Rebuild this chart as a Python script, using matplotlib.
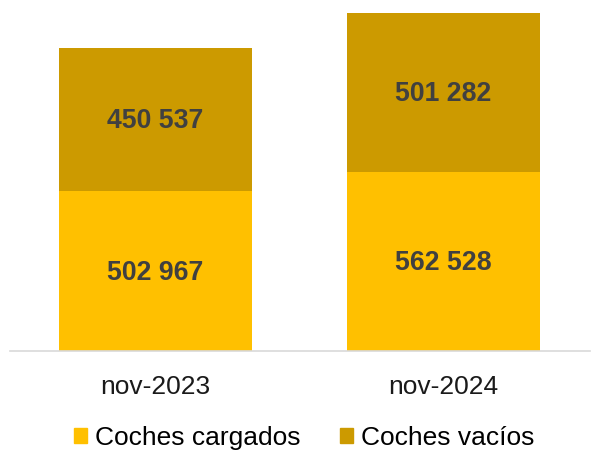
import matplotlib.pyplot as plt
from matplotlib.patches import Patch

plt.rcParams['font.family'] = ['Liberation Sans', 'DejaVu Sans']

# Monthly car counts
periods = ["nov-2023", "nov-2024"]
loaded = [502967, 562528]
empty = [450537, 501282]
series_names = ["Coches cargados", "Coches vacíos"]

LOADED_COLOR = "#ffc000"
EMPTY_COLOR = "#cc9a00"
LABEL_COLOR = "#404040"


def fmt(v):
    return f"{v:,}".replace(",", " ")


fig = plt.figure(figsize=(5.94, 4.59), dpi=100)
ax = fig.add_axes([10 / 594, 108 / 459, 580 / 594, 351 / 459])

x = list(range(len(periods)))
width = 0.67
ax.bar(x, loaded, width, color=LOADED_COLOR)
ax.bar(x, empty, width, bottom=loaded, color=EMPTY_COLOR)

for i in x:
    ax.text(i, loaded[i] / 2 - 4500, fmt(loaded[i]), ha="center", va="center",
            fontsize=19.2, fontweight="bold", color=LABEL_COLOR)
    ax.text(i, loaded[i] + empty[i] / 2 - 4500, fmt(empty[i]), ha="center", va="center",
            fontsize=19.2, fontweight="bold", color=LABEL_COLOR)

ax.set_xlim(-0.505, 1.509)
ax.set_ylim(0, 1104500)
ax.set_yticks([])
ax.set_xticks(x)
ax.set_xticklabels(periods, fontsize=19, color="#1a1a1a")
ax.tick_params(axis="x", length=0, pad=17)
for side in ["left", "right", "top"]:
    ax.spines[side].set_visible(False)
ax.spines["bottom"].set_color("#d9d9d9")
ax.spines["bottom"].set_linewidth(1.2)

handles = [Patch(color=LOADED_COLOR), Patch(color=EMPTY_COLOR)]
fig.legend(handles, series_names, loc="center", bbox_to_anchor=(304 / 594, 1 - 438 / 459),
           ncol=2, frameon=False, fontsize=19, handlelength=0.5, handleheight=0.5,
           handletextpad=0.3, columnspacing=1.5)

fig.savefig("out.png", dpi=100)
